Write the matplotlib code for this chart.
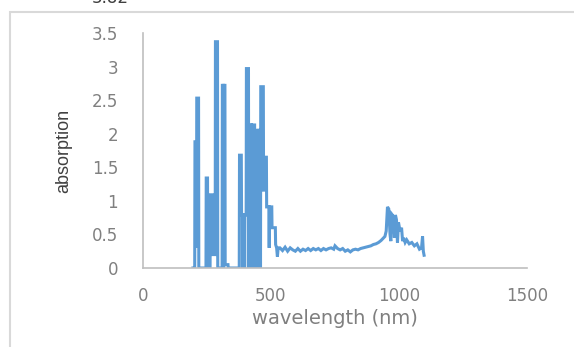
import matplotlib.pyplot as plt
from matplotlib.patches import Rectangle

# spectrum (nm, absorption)
wavelength = [195, 202, 203, 208, 209, 210, 217, 218, 246, 247, 252, 253, 262, 263, 271, 272,
              282, 283, 291, 292, 309, 310, 314, 315, 316, 320, 321, 332, 333,
              376, 377, 384, 385, 389, 390, 391, 396, 397, 398, 403, 404, 412, 413, 414, 424,
              425, 426, 436, 437, 439, 440, 448, 449, 450, 458, 459, 460, 470, 471, 473, 474,
              482, 483, 492, 493, 494, 503, 504, 517, 518, 522, 525, 528,
              535, 545, 555, 565, 575, 585, 595, 605, 615, 625, 635, 645, 655, 665, 675,
              685, 695, 705, 715, 725, 735, 745, 750, 760, 770, 780, 790, 800, 810, 820,
              830, 840, 850, 860, 870, 880, 890, 900, 910, 920, 930, 940, 945, 950, 955,
              960, 965, 968, 972, 978, 982, 986, 990, 994, 998, 1004, 1010, 1014, 1018,
              1024, 1030, 1040, 1050, 1060, 1070, 1080, 1088, 1092, 1095, 1098]
absorption = [0.0, 0.0, 1.88, 1.88, 0.3, 2.53, 2.53, 0.0, 0.0, 1.34, 1.34, 0.0, 0.0, 1.09, 1.09, 0.2,
              0.2, 3.37, 3.37, 0.0, 0.0, 2.72, 2.72, 0.0, 2.72, 2.72, 0.05, 0.05, 0.0,
              0.0, 1.68, 1.68, 0.79, 0.79, 0.0, 0.79, 0.79, 0.0, 0.79, 0.79, 2.97, 2.97, 0.0, 2.13, 2.13,
              0.0, 2.13, 2.13, 0.0, 0.0, 2.05, 2.05, 0.0, 2.05, 2.05, 0.0, 2.7, 2.7, 1.16, 1.16, 1.65,
              1.65, 0.91, 0.91, 0.3, 0.91, 0.91, 0.6, 0.6, 0.35, 0.3, 0.17, 0.3,
              0.3, 0.26, 0.31, 0.25, 0.3, 0.27, 0.25, 0.29, 0.25, 0.28, 0.26, 0.29, 0.26, 0.29, 0.27,
              0.29, 0.26, 0.29, 0.27, 0.29, 0.3, 0.28, 0.33, 0.29, 0.27, 0.29, 0.25, 0.27, 0.24, 0.27,
              0.28, 0.27, 0.29, 0.3, 0.31, 0.32, 0.33, 0.35, 0.36, 0.38, 0.41, 0.45, 0.47, 0.55, 0.91,
              0.88, 0.5, 0.4, 0.8, 0.77, 0.45, 0.79, 0.72, 0.38, 0.68, 0.55, 0.6, 0.4, 0.45,
              0.38, 0.42, 0.36, 0.38, 0.33, 0.36, 0.28, 0.3, 0.47, 0.25, 0.19]

x_ticks = [0, 500, 1000, 1500]
y_ticks = [0, 0.5, 1, 1.5, 2, 2.5, 3, 3.5]
y_ticklabels = ['0', '0.5', '1', '1.5', '2', '2.5', '3', '3.5']

fig = plt.figure(figsize=(5.74, 3.47), dpi=100)
ax = fig.add_axes([143 / 574, 1 - 268 / 347, 384 / 574, 235 / 347])

ax.plot(wavelength, absorption, color='#5B9BD5', lw=2.2, solid_joinstyle='miter')

ax.set_xlim(0, 1500)
ax.set_ylim(0, 3.5)
ax.set_xticks(x_ticks)
ax.set_yticks(y_ticks)
ax.set_yticklabels(y_ticklabels)
ax.tick_params(axis='both', length=0, labelsize=12, labelcolor='#808080')
ax.tick_params(axis='y', pad=18)
ax.tick_params(axis='x', pad=14)

for side in ['top', 'right']:
    ax.spines[side].set_visible(False)
for side in ['left', 'bottom']:
    ax.spines[side].set_color('#BFBFBF')
    ax.spines[side].set_linewidth(1.2)

ax.set_xlabel('wavelength (nm)', fontsize=14, color='#7F7F7F', va='center')
ax.xaxis.set_label_coords(0.5, -0.213)
ax.set_ylabel('absorption', fontsize=13, color='#404040', va='center',
              family=['Liberation Sans', 'DejaVu Sans'])
ax.yaxis.set_label_coords(-0.207, 0.5)

# chart border and the cut-off value above it
fig.patches.append(Rectangle((10 / 574, -0.1), 1.0, 1 - 12 / 347 + 0.1,
                             transform=fig.transFigure, fill=False,
                             ec='#D9D9D9', lw=1.5))
fig.text(110 / 574, 1 - 3 / 347, '3.82', ha='center', va='baseline',
         fontsize=12, color='#404040')

fig.savefig('out.png', dpi=100)
